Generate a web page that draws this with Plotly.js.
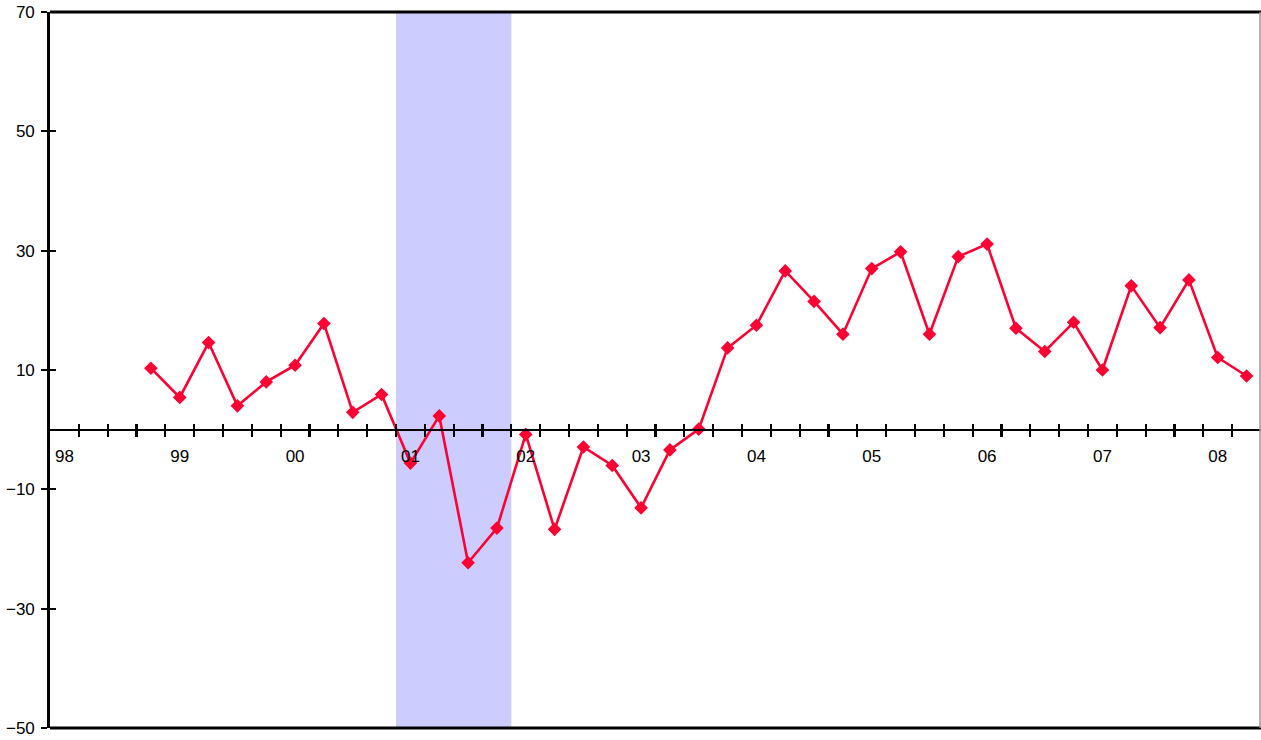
<!DOCTYPE html>
<html>
<head>
<meta charset="utf-8">
<script src="https://cdn.plot.ly/plotly-3.0.1.min.js"></script>
<style>
  html, body { margin: 0; padding: 0; background: #ffffff; }
  #chart { width: 1261px; height: 740px; }
</style>
</head>
<body>
<div id="chart"></div>
<script>
// Quarterly series, 1998 Q1 through 2008 Q2 (42 quarters); data begins in 1998 Q4.
const quarters = [];
for (let y = 1998; y <= 2008; y++) {
  for (let q = 1; q <= 4; q++) {
    if (y === 2008 && q > 2) break;
    quarters.push(y + ' Q' + q);
  }
}
const yearLabels = ['98', '99', '00', '01', '02', '03', '04', '05', '06', '07', '08'];
const firstDataQuarter = '1998 Q4';
const values = [
  10.3, 5.4, 14.6, 4.0, 8.0, 10.8, 17.8, 2.9, 5.9,
  -5.6, 2.3, -22.3, -16.5, -0.8, -16.7, -2.9, -6.0, -13.1, -3.4, 0.1,
  13.7, 17.5, 26.6, 21.5, 16.0, 27.0, 29.8, 16.0, 29.0,
  31.1, 17.0, 13.1, 18.0, 10.0, 24.1, 17.1, 25.1, 12.1, 9.0
];
// Shaded period (recession), first and last quarter inclusive
const recession = ['2001 Q1', '2001 Q4'];
const yTicks = [70, 50, 30, 10, -10, -30, -50];

// Category index helpers
const idx = q => quarters.indexOf(q);
const start = idx(firstDataQuarter);
const xData = values.map((_, i) => start + i);
const labelPos = yearLabels.map((_, i) => i * 4);
const boundaries = quarters.slice(1).map((_, i) => i + 0.5);

const xRange = [-0.5, quarters.length - 0.5];
const yRange = [-50, 70];
const zeroPos = (0 - yRange[0]) / (yRange[1] - yRange[0]);

const lineColor = '#FF0033';
const font = { family: 'Liberation Sans, Arial, sans-serif', size: 17, color: '#000000' };

const traces = [
  {
    x: xData, y: values, xaxis: 'x', yaxis: 'y',
    mode: 'lines+markers', type: 'scatter',
    line: { color: lineColor, width: 2.6 },
    marker: { symbol: 'diamond', size: 10.5, color: lineColor },
    hoverinfo: 'skip', showlegend: false
  },
  // carriers for the secondary tick axes (no visible marks)
  {
    x: xData, y: values, xaxis: 'x2', yaxis: 'y2',
    mode: 'lines', line: { width: 0, color: 'rgba(0,0,0,0)' },
    hoverinfo: 'skip', showlegend: false
  },
  {
    x: xData, y: values, xaxis: 'x3', yaxis: 'y2',
    mode: 'lines', line: { width: 0, color: 'rgba(0,0,0,0)' },
    hoverinfo: 'skip', showlegend: false
  }
];

const baseX = {
  range: xRange, showgrid: false, zeroline: false, fixedrange: true
};

const layout = {
  width: 1261, height: 740,
  margin: { l: 50, r: 0, t: 12, b: 12 },
  paper_bgcolor: '#ffffff', plot_bgcolor: 'rgba(0,0,0,0)',
  font: font,
  showlegend: false,
  xaxis: Object.assign({}, baseX, {
    anchor: 'free', position: zeroPos,
    showline: true, linecolor: '#000000', linewidth: 2.2,
    tickmode: 'array', tickvals: labelPos, ticktext: yearLabels,
    ticks: '', ticklabelstandoff: 11, tickfont: font
  }),
  xaxis2: Object.assign({}, baseX, {
    overlaying: 'x', anchor: 'free', position: zeroPos,
    showline: false, tickmode: 'array', tickvals: boundaries,
    ticks: 'outside', ticklen: 6, tickwidth: 2.2, tickcolor: '#000000',
    showticklabels: false
  }),
  xaxis3: Object.assign({}, baseX, {
    overlaying: 'x', anchor: 'free', position: zeroPos,
    showline: false, tickmode: 'array', tickvals: boundaries,
    ticks: 'inside', ticklen: 6, tickwidth: 2.2, tickcolor: '#000000',
    showticklabels: false
  }),
  yaxis: {
    range: yRange, showgrid: false, zeroline: false, fixedrange: true,
    showline: true, linecolor: '#000000', linewidth: 2.8,
    tickmode: 'array', tickvals: yTicks,
    ticks: 'outside', ticklen: 6, tickwidth: 2.2, tickcolor: '#000000',
    ticklabelstandoff: 3, tickfont: font
  },
  yaxis2: {
    range: yRange, overlaying: 'y', anchor: 'x', side: 'left',
    showgrid: false, zeroline: false, fixedrange: true, showline: false,
    tickmode: 'array', tickvals: yTicks,
    ticks: 'inside', ticklen: 6, tickwidth: 2.2, tickcolor: '#000000',
    showticklabels: false
  },
  shapes: [
    {
      type: 'rect', xref: 'x', yref: 'paper',
      x0: idx(recession[0]) - 0.5, x1: idx(recession[1]) + 0.5, y0: 0, y1: 1,
      fillcolor: '#CCCCFF', line: { width: 0 }, layer: 'below'
    },
    { type: 'line', xref: 'paper', yref: 'paper', x0: 0, x1: 1, y0: 1, y1: 1,
      line: { color: '#000000', width: 3 } },
    { type: 'line', xref: 'paper', yref: 'paper', x0: 0, x1: 1, y0: 0, y1: 0,
      line: { color: '#000000', width: 3 } },
    { type: 'line', xref: 'paper', yref: 'paper', x0: 0.9992, x1: 0.9992, y0: 0, y1: 1,
      line: { color: '#9a9a9a', width: 1.5 } }
  ]
};

Plotly.newPlot('chart', traces, layout, { displayModeBar: false, staticPlot: true });
</script>
</body>
</html>
